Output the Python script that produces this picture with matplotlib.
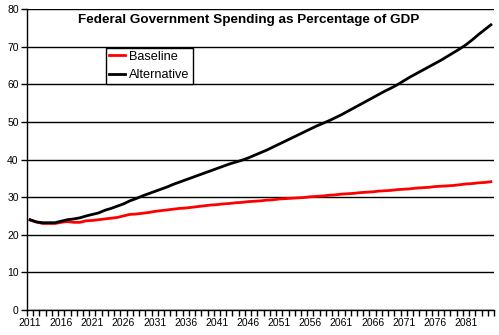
import numpy as np
import matplotlib.pyplot as plt
from matplotlib.ticker import MultipleLocator

plt.rcParams['font.family'] = ['Liberation Sans', 'DejaVu Sans']

years = np.arange(2011, 2086)

baseline = [
    23.9, 23.4, 23.0, 23.0, 23.0, 23.3, 23.5, 23.3, 23.3, 23.7,
    23.8, 24.0, 24.2, 24.4, 24.6, 25.0, 25.4, 25.5, 25.7, 25.9,
    26.2, 26.4, 26.6, 26.8, 27.0, 27.1, 27.3, 27.5, 27.7, 27.9,
    28.0, 28.2, 28.3, 28.5, 28.6, 28.8, 28.9, 29.0, 29.2, 29.3,
    29.5, 29.6, 29.7, 29.8, 29.9, 30.1, 30.2, 30.3, 30.5, 30.6,
    30.8, 30.9, 31.0, 31.2, 31.3, 31.4, 31.6, 31.7, 31.8, 32.0,
    32.1, 32.2, 32.4, 32.5, 32.6, 32.8, 32.9, 33.0, 33.1, 33.3,
    33.5, 33.6, 33.8, 33.9, 34.1,
]

alternative = [
    24.0, 23.4, 23.2, 23.2, 23.2, 23.6, 24.0, 24.2, 24.5, 25.0,
    25.4, 25.8, 26.5, 27.0, 27.6, 28.2, 29.0, 29.6, 30.3, 30.9,
    31.5, 32.1, 32.7, 33.4, 34.0, 34.6, 35.2, 35.8, 36.4, 37.0,
    37.6, 38.2, 38.8, 39.3, 39.8, 40.4, 41.1, 41.8, 42.5, 43.3,
    44.1, 44.9, 45.7, 46.5, 47.3, 48.1, 48.9, 49.6, 50.3, 51.1,
    51.9, 52.8, 53.7, 54.6, 55.5, 56.4, 57.3, 58.2, 59.0, 59.9,
    60.9, 61.9, 62.8, 63.7, 64.6, 65.5, 66.4, 67.4, 68.4, 69.4,
    70.5, 71.8, 73.2, 74.5, 75.8,
]

fig = plt.figure(figsize=(4.99, 3.35), dpi=100)
ax = fig.add_axes([27 / 499, 1 - 310 / 335, 467 / 499, 301 / 335])

ax.plot(years, baseline, color='#ff0000', lw=2, label='Baseline')
ax.plot(years, alternative, color='black', lw=2, label='Alternative')

ax.set_xlim(2010.5, 2085.5)
ax.set_ylim(0, 80)
ax.yaxis.set_major_locator(MultipleLocator(10))
ax.grid(axis='y', color='black', lw=1)
ax.set_axisbelow(True)

# year labels every 5 years, tick marks at category boundaries
ax.set_xticks(np.arange(2011, 2086, 5))
ax.set_xticks(np.arange(2010.5, 2086, 1), minor=True)
ax.tick_params(axis='x', which='major', length=0, pad=6, labelsize=7.5)
ax.tick_params(axis='x', which='minor', length=4, width=1, color='black')
ax.tick_params(axis='y', length=4, width=1, labelsize=7.5, pad=2)

for s in ['top', 'right']:
    ax.spines[s].set_visible(False)
ax.spines['left'].set_linewidth(1)
ax.spines['bottom'].set_linewidth(1)

ax.text(0.474, 0.963, 'Federal Government Spending as Percentage of GDP',
        transform=ax.transAxes, ha='center', va='center',
        fontsize=9.7, fontweight='bold')

leg = ax.legend(loc='upper left', bbox_to_anchor=(78.5 / 467, 1 - 38.5 / 301),
                frameon=True, fancybox=False, fontsize=9.2, handlelength=1.3,
                handletextpad=0.3, borderpad=0.25, labelspacing=0.5,
                borderaxespad=0)
leg.get_frame().set_edgecolor('black')
leg.get_frame().set_linewidth(1)
leg.get_frame().set_alpha(1)

fig.savefig('out.png', dpi=100)
